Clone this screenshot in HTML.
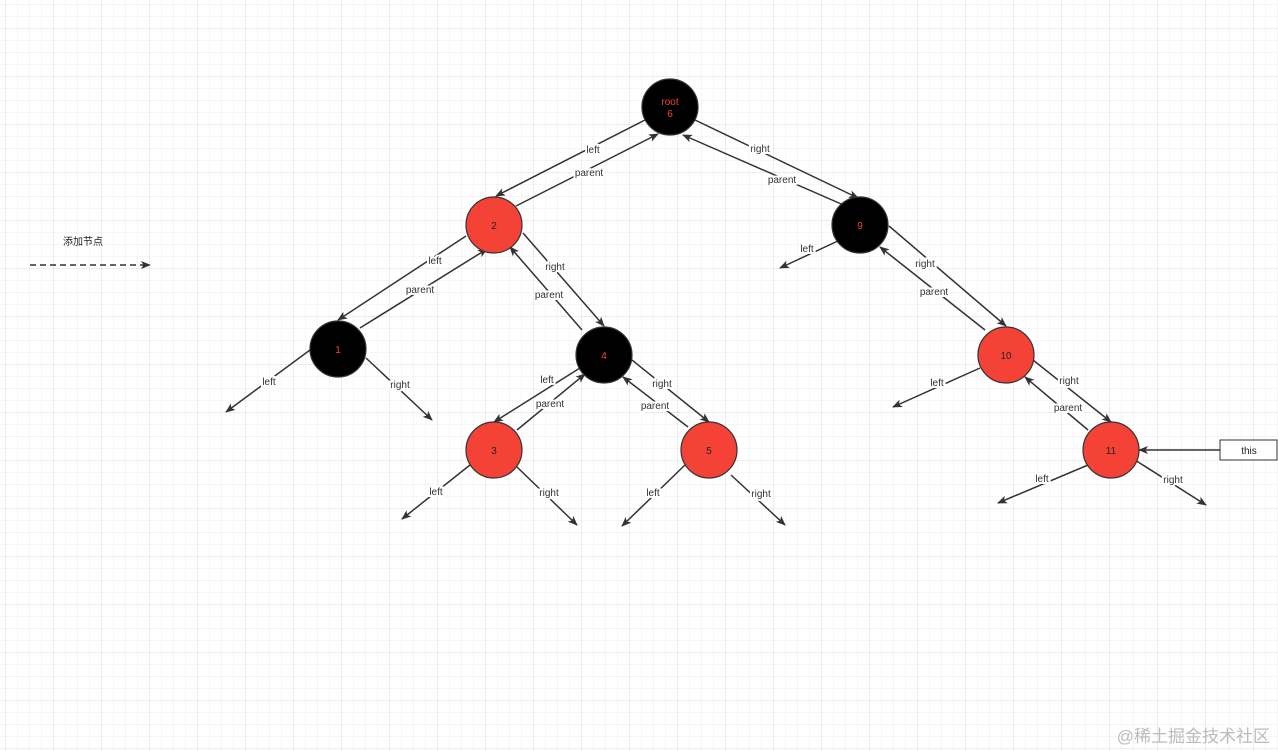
<!DOCTYPE html>
<html><head><meta charset="utf-8"><style>
html,body{margin:0;padding:0;background:#fff;}
svg{display:block;}
text{font-family:"Liberation Sans","Noto Sans CJK SC",sans-serif;font-size:10px;}
</style></head><body>
<svg width="1278" height="751" xmlns="http://www.w3.org/2000/svg">
<defs>
<pattern id="mi" width="12" height="12" patternUnits="userSpaceOnUse" x="5" y="4"><path d="M0 0H12M0 0V12" stroke="#ececec" stroke-width="1" fill="none"/></pattern>
<pattern id="ma" width="48" height="48" patternUnits="userSpaceOnUse" x="5" y="28"><path d="M0 0H48M0 0V48" stroke="#dadada" stroke-width="1" fill="none"/></pattern>
<marker id="a" markerWidth="10" markerHeight="8" refX="9" refY="4" orient="auto" markerUnits="userSpaceOnUse"><path d="M0 0L10 4L0 8L2.5 4Z" fill="#333"/></marker>
</defs>
<rect width="1278" height="751" fill="#fff"/>
<rect width="1278" height="751" fill="url(#mi)"/>
<rect width="1278" height="751" fill="url(#ma)"/>
<g stroke="#333" stroke-width="1.5" fill="none" marker-end="url(#a)">
<line x1="645" y1="120" x2="496" y2="196"/>
<line x1="516" y1="206" x2="658" y2="134"/>
<line x1="695" y1="120" x2="858" y2="198"/>
<line x1="855" y1="210" x2="683" y2="135"/>
<line x1="840" y1="240" x2="780" y2="268"/>
<line x1="889" y1="226" x2="1006" y2="326"/>
<line x1="985" y1="330" x2="880" y2="247"/>
<line x1="466" y1="236" x2="338" y2="320"/>
<line x1="360" y1="328" x2="487" y2="249"/>
<line x1="310" y1="350" x2="226" y2="412"/>
<line x1="366" y1="358" x2="432" y2="420"/>
<line x1="523" y1="233" x2="604" y2="326"/>
<line x1="582" y1="330" x2="510" y2="247"/>
<line x1="580" y1="368" x2="494" y2="422"/>
<line x1="517" y1="430" x2="585" y2="374"/>
<line x1="632" y1="360" x2="709" y2="422"/>
<line x1="688" y1="427" x2="623" y2="377"/>
<line x1="470" y1="465" x2="402" y2="519"/>
<line x1="517" y1="467" x2="577" y2="525"/>
<line x1="685" y1="465" x2="622" y2="526"/>
<line x1="731" y1="475" x2="785" y2="525"/>
<line x1="980" y1="368" x2="893" y2="407"/>
<line x1="1033" y1="360" x2="1111" y2="422"/>
<line x1="1088" y1="430" x2="1025" y2="377"/>
<line x1="1088" y1="465" x2="998" y2="503"/>
<line x1="1135" y1="460" x2="1206" y2="505"/>
<line x1="1220" y1="450" x2="1139" y2="450"/>
<line x1="30" y1="265" x2="150" y2="265" stroke-dasharray="6,4"/>
</g>
<g stroke="#333" stroke-width="1.2">
<circle cx="670" cy="107" r="28" fill="#000"/>
<circle cx="494" cy="225" r="28" fill="#f44336"/>
<circle cx="860" cy="225" r="28" fill="#000"/>
<circle cx="338" cy="349" r="28" fill="#000"/>
<circle cx="604" cy="355" r="28" fill="#000"/>
<circle cx="1006" cy="355" r="28" fill="#f44336"/>
<circle cx="494" cy="450" r="28" fill="#f44336"/>
<circle cx="709" cy="450" r="28" fill="#f44336"/>
<circle cx="1111" cy="450" r="28" fill="#f44336"/>
</g>
<rect x="1220" y="440" width="57" height="20" fill="#fff" stroke="#333"/>
<g text-anchor="middle" fill="#f44336">
<text x="670" y="105">root</text><text x="670" y="117">6</text>
<text x="860" y="229">9</text><text x="338" y="353">1</text><text x="604" y="359">4</text>
</g>
<g text-anchor="middle" fill="#222">
<text x="494" y="229">2</text><text x="1006" y="359">10</text><text x="494" y="454">3</text>
<text x="709" y="454">5</text><text x="1111" y="454">11</text><text x="1249" y="454">this</text>
<text x="83" y="245">添加节点</text>
</g>
<g text-anchor="middle" fill="#333" style="paint-order:stroke" stroke="#fff" stroke-width="4">
<text x="593" y="153">left</text><text x="589" y="176">parent</text>
<text x="760" y="152">right</text><text x="782" y="183">parent</text>
<text x="807" y="252">left</text><text x="925" y="267">right</text><text x="934" y="295">parent</text>
<text x="435" y="264">left</text><text x="420" y="293">parent</text>
<text x="555" y="270">right</text><text x="549" y="298">parent</text>
<text x="269" y="385">left</text><text x="400" y="388">right</text>
<text x="547" y="383">left</text><text x="550" y="407">parent</text>
<text x="662" y="387">right</text><text x="655" y="409">parent</text>
<text x="436" y="495">left</text><text x="549" y="496">right</text>
<text x="653" y="496">left</text><text x="761" y="497">right</text>
<text x="937" y="386">left</text><text x="1069" y="384">right</text><text x="1068" y="411">parent</text>
<text x="1042" y="482">left</text><text x="1173" y="483">right</text>
</g>
<text x="1270" y="742" text-anchor="end" fill="#bbb" style="font-size:17px">@稀土掘金技术社区</text>
</svg>
</body></html>
